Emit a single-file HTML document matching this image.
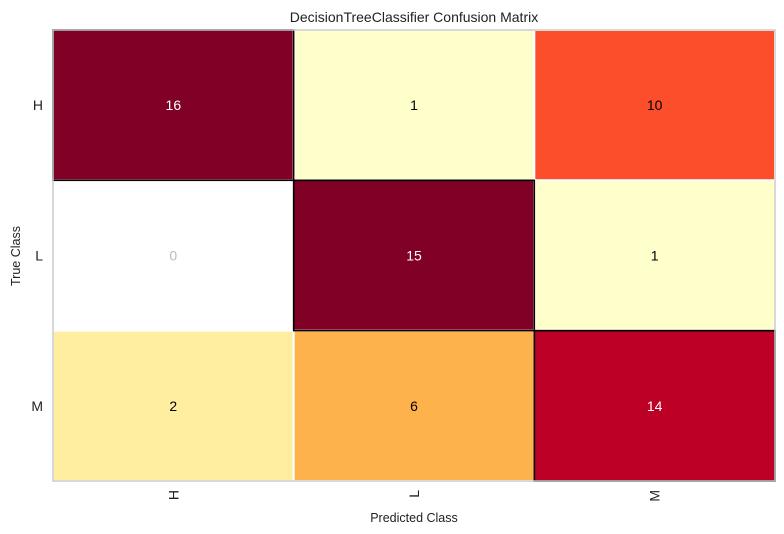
<!DOCTYPE html>
<html><head><meta charset="utf-8"><style>
html,body{margin:0;padding:0;background:#fff;}
svg{display:block;font-family:"Liberation Sans","DejaVu Sans",sans-serif;}
</style></head><body>
<svg id="chart" width="784" height="534">
<text x="414" y="22" font-size="14" text-anchor="middle" fill="#222">DecisionTreeClassifier Confusion Matrix</text>
<text x="414" y="522" font-size="12.5" text-anchor="middle" fill="#222">Predicted Class</text>
<text transform="translate(20,256) rotate(-90)" font-size="12.5" text-anchor="middle" fill="#222">True Class</text>
<g id="cells"></g>
<rect x="53" y="30" width="722" height="451" fill="none" stroke="#ccc" stroke-width="1.5"/>
</svg>
<script>
const classes = ["H","L","M"];
const values = [[16,1,10],[0,15,1],[2,6,14]];
const palette = ["#ffffcc","#ffeda0","#fed976","#feb24c","#fd8d3c","#fc4e2a","#e31a1c","#bd0026","#800026"];
const X0=53,Y0=30,W=722,H=451;
const n=classes.length;
const cw=W/n, ch=H/n;
const xPos=i=>X0+i*cw, yPos=j=>Y0+j*ch;
const vmax=Math.max(...values.flat());
const NS="http://www.w3.org/2000/svg";
const svg=document.getElementById('chart');
const g=document.getElementById('cells');
function color(v){ if(v===0) return "#ffffff"; return palette[Math.min(8,Math.floor(v/vmax*9))]; }
for(let r=0;r<n;r++){for(let c=0;c<n;c++){
  const v=values[r][c];
  const rect=document.createElementNS(NS,'rect');
  rect.setAttribute('x',xPos(c));rect.setAttribute('y',yPos(r));
  rect.setAttribute('width',cw);rect.setAttribute('height',ch);
  rect.setAttribute('fill',color(v));
  rect.setAttribute('stroke',r===c?'#000':'#fff');
  rect.setAttribute('stroke-width',r===c?1.5:2);
  
  
  g.appendChild(rect);
}}
// draw diagonal borders on top
for(let r=0;r<n;r++){
  const rect=document.createElementNS(NS,'rect');
  rect.setAttribute('x',xPos(r));rect.setAttribute('y',yPos(r));
  rect.setAttribute('width',cw);rect.setAttribute('height',ch);
  rect.setAttribute('fill','none');rect.setAttribute('stroke','#000');rect.setAttribute('stroke-width',1.5);
  
  
  g.appendChild(rect);
}
for(let r=0;r<n;r++){for(let c=0;c<n;c++){
  const v=values[r][c];
  const t=document.createElementNS(NS,'text');
  t.setAttribute('x',xPos(c)+cw/2);t.setAttribute('y',yPos(r)+ch/2+5);
  t.setAttribute('text-anchor','middle');t.setAttribute('font-size','14');
  const idx=v===0?-1:Math.min(8,Math.floor(v/vmax*9));
  t.setAttribute('fill',v===0?'#bbb':(idx>=7?'#fff':'#000'));
  t.textContent=v;
  
  
  g.appendChild(t);
}}
for(let i=0;i<n;i++){
  const t=document.createElementNS(NS,'text');
  t.setAttribute('x',43);t.setAttribute('y',yPos(i)+ch/2+5);
  t.setAttribute('text-anchor','end');t.setAttribute('font-size','14');t.setAttribute('fill','#222');
  t.textContent=classes[i];
  
  
  svg.appendChild(t);
  const u=document.createElementNS(NS,'text');
  const cx=xPos(i)+cw/2+5;
  u.setAttribute('transform','translate('+cx+',490) rotate(-90)');
  u.setAttribute('text-anchor','end');u.setAttribute('font-size','14');u.setAttribute('fill','#222');
  u.textContent=classes[i];
  
  
  svg.appendChild(u);
}
</script>
</body></html>
